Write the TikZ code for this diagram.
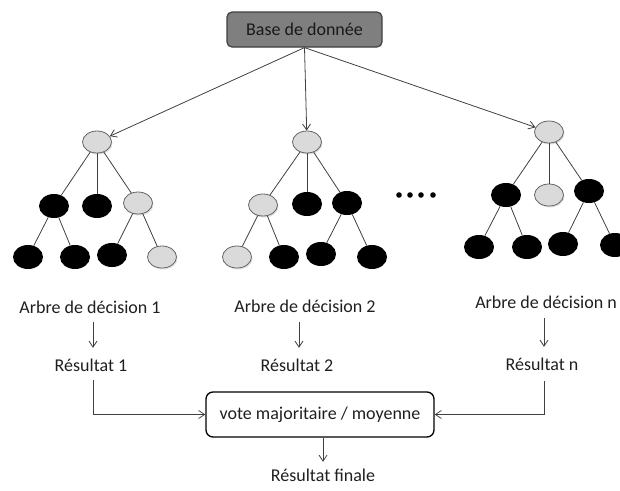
\documentclass[tikz,border=0pt]{standalone}
\usepackage{fontspec}
\setmainfont{Carlito}
\usetikzlibrary{arrows.meta,shapes.geometric,shadows}
\definecolor{basefill}{RGB}{127,127,127}
\definecolor{nodegray}{RGB}{218,218,218}
\begin{document}
\begin{tikzpicture}[x=1pt,y=-1pt,
  every node/.style={font=\fontsize{18}{21}\selectfont},
  lbl/.style={inner sep=0pt,text height=13pt,text depth=4pt,text=black!88},
  blk/.style={ellipse,fill=black,minimum width=30pt,minimum height=24pt,inner sep=0pt},
  gry/.style={ellipse,fill=nodegray,draw=black!60,line width=0.8pt,minimum width=29pt,minimum height=22pt,inner sep=0pt,
    drop shadow={opacity=0.25,shadow xshift=1pt,shadow yshift=-1.5pt}},
  edge/.style={draw=black!75,line width=0.8pt},
  arr/.style={draw=black!75,line width=0.8pt,-{Straight Barb[length=6pt,width=8pt]}},
]
\clip (0,0) rectangle (620,490);

% database box
\node[draw=black!75,fill=basefill,line width=1.2pt,rounded corners=5pt,
      minimum width=155pt,minimum height=35pt,inner sep=0pt,text=black!90] (base) at (304.5,29.5) {Base de donnée};

% tree 1
\node[gry] (t1r) at (97,142) {};
\node[blk] (t1a) at (54,206) {};
\node[blk] (t1b) at (97,206) {};
\node[gry] (t1c) at (138,203) {};
\node[blk] (t1aa) at (28,257) {};
\node[blk] (t1ab) at (75,257) {};
\node[blk] (t1ca) at (112,255) {};
\node[gry] (t1cb) at (162,257) {};

% tree 2
\node[gry] (t2r) at (307,142) {};
\node[gry] (t2a) at (263,205) {};
\node[blk] (t2b) at (307,204) {};
\node[blk] (t2c) at (347,203) {};
\node[gry] (t2aa) at (237,257) {};
\node[blk] (t2ab) at (284,257) {};
\node[blk] (t2ca) at (321,254) {};
\node[blk] (t2cb) at (372,257) {};

% tree 3
\node[gry] (t3r) at (549,132) {};
\node[blk] (t3a) at (506,195) {};
\node[gry] (t3b) at (549,195) {};
\node[blk] (t3c) at (589,191) {};
\node[blk] (t3aa) at (479,247) {};
\node[blk] (t3ab) at (527,247) {};
\node[blk] (t3ca) at (563,244) {};
\node[blk] (t3cb) at (615,245) {};

% tree edges
\foreach \t in {1,2,3}{
  \draw[edge] (t\t r) -- (t\t a);
  \draw[edge] (t\t r) -- (t\t b);
  \draw[edge] (t\t r) -- (t\t c);
}
\draw[edge] (t1a) -- (t1aa);
\draw[edge] (t1a) -- (t1ab);
\draw[edge] (t1c) -- (t1ca);
\draw[edge] (t1c) -- (t1cb);
\draw[edge] (t2a) -- (t2aa);
\draw[edge] (t2a) -- (t2ab);
\draw[edge] (t2c) -- (t2ca);
\draw[edge] (t2c) -- (t2cb);
\draw[edge] (t3a) -- (t3aa);
\draw[edge] (t3a) -- (t3ab);
\draw[edge] (t3c) -- (t3ca);
\draw[edge] (t3c) -- (t3cb);

% arrows from database
\draw[arr] (base.south) -- (t1r);
\draw[arr] (base.south) -- (t2r);
\draw[arr] (base.south) -- (t3r);

% dots
\foreach \x in {399,410,421,433} \fill (\x,195) circle (2.8);

% labels
\node[lbl] (a1) at (90,308.5) {Arbre de décision 1};
\node[lbl] (a2) at (305,307.5) {Arbre de décision 2};
\node[lbl] (an) at (546,303.5) {Arbre de décision n};
\node[lbl] (r1) at (91,366.5) {Résultat 1};
\node[lbl] (r2) at (297,366.5) {Résultat 2};
\node[lbl] (rn) at (542,365.5) {Résultat n};
\node[draw=black,rounded corners=7pt,line width=1.3pt,minimum width=228pt,minimum height=45pt,inner sep=0pt,text=black!88]
  (vote) at (320,414.5) {vote majoritaire / moyenne};
\node[lbl] (fin) at (323,476.5) {Résultat finale};

% vertical arrows
\coordinate (k1) at ([xshift=2pt]r1.north);
\coordinate (k2) at ([xshift=2pt]r2.north);
\coordinate (kn) at ([xshift=2pt]rn.north);
\draw[arr,shorten <=5pt,shorten >=10pt] (k1 |- a1.south) -- (k1);
\draw[arr,shorten <=6pt,shorten >=10pt] (k2 |- a2.south) -- (k2);
\draw[arr,shorten <=6pt,shorten >=10pt] (kn |- an.south) -- (kn);

\coordinate (s1) at ([xshift=2pt]r1.south);
\coordinate (sn) at ([xshift=2pt]rn.south);
\draw[arr,shorten <=5pt] (s1) |- (vote.west);
\draw[arr,shorten <=7pt] (sn) |- (vote.east);
\draw[arr,shorten >=6pt] (fin.north |- vote.south) -- (fin.north);
\end{tikzpicture}
\end{document}
